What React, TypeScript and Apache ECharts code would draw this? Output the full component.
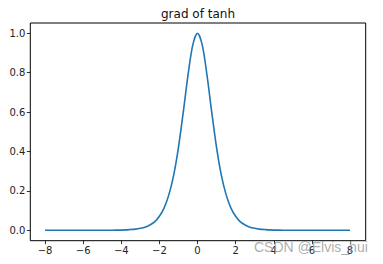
import React, { useEffect, useRef } from "react";
import * as echarts from "echarts";

const titleText = "grad of tanh";
const watermarkText = "CSDN @Elvis_hui";

// x positions of the sampled curve
const xValues = [
  -8, -7, -6, -5, -4.5, -4, -3.75, -3.5, -3.25, -3, -2.75, -2.5, -2.25, -2, -1.75, -1.5, -1.25, -1,
  -0.75, -0.5, -0.25, 0, 0.25, 0.5, 0.75, 1, 1.25, 1.5, 1.75, 2, 2.25, 2.5, 2.75, 3, 3.25, 3.5,
  3.75, 4, 4.5, 5, 6, 7, 8,
];
// gradient values
const yValues = [
  0, 0, 0, 0.0002, 0.0005, 0.001, 0.002, 0.004, 0.006, 0.01, 0.016, 0.027, 0.043, 0.071, 0.114,
  0.181, 0.28, 0.42, 0.597, 0.786, 0.94, 1.0, 0.94, 0.786, 0.597, 0.42, 0.28, 0.181, 0.114, 0.071,
  0.043, 0.027, 0.016, 0.01, 0.006, 0.004, 0.002, 0.001, 0.0005, 0.0002, 0, 0, 0,
];

const xTickMin = -8;
const xTickMax = 8;
const xTickStep = 2;
const yTickMin = 0;
const yTickMax = 1;
const yTickStep = 0.2;

export default function App() {
  const ref = useRef<HTMLDivElement>(null);
  useEffect(() => {
    if (!ref.current) return;
    const chart = echarts.init(ref.current, undefined, { renderer: "svg" });
    const font = "DejaVu Sans";
    const data = xValues.map((x, i) => [x, yValues[i]]);
    chart.setOption({
      animation: false,
      textStyle: { fontFamily: font },
      grid: [
        {
          left: 30.3,
          right: 17.3,
          top: 23,
          bottom: 23.3,
          show: true,
          borderColor: "#000",
          borderWidth: 1,
          backgroundColor: "transparent",
        },
        {
          left: 45,
          right: 33,
          top: 33.3,
          bottom: 33.7,
        },
      ],
      xAxis: [
        { type: "value", gridIndex: 0, min: -8.8, max: 8.8, show: false },
        {
          type: "value",
          gridIndex: 1,
          min: xTickMin,
          max: xTickMax,
          interval: xTickStep,
          offset: 10.4,
          axisLine: { show: false, onZero: false },
          axisTick: { show: true, length: 3.5, lineStyle: { color: "#000", width: 0.8 } },
          splitLine: { show: false },
          axisLabel: {
            color: "#222",
            fontSize: 10,
            fontFamily: font,
            margin: 5,
            formatter: (v: number) => String(v).replace("-", "\u2212"),
          },
        },
      ],
      yAxis: [
        { type: "value", gridIndex: 0, min: -0.05, max: 1.05, show: false },
        {
          type: "value",
          gridIndex: 1,
          min: yTickMin,
          max: yTickMax,
          interval: yTickStep,
          offset: 14.7,
          axisLine: { show: false, onZero: false },
          axisTick: { show: true, length: 3.5, lineStyle: { color: "#000", width: 0.8 } },
          splitLine: { show: false },
          axisLabel: {
            color: "#222",
            fontSize: 10,
            fontFamily: font,
            margin: 5,
            formatter: (v: number) => v.toFixed(1),
          },
        },
      ],
      series: [
        {
          type: "line",
          xAxisIndex: 1,
          yAxisIndex: 1,
          data,
          showSymbol: false,
          smooth: 0.3,
          lineStyle: { color: "#1f77b4", width: 1.6 },
          clip: false,
        },
      ],
      graphic: [
        {
          type: "text",
          x: 198,
          y: 14,
          style: {
            text: titleText,
            font: `12px ${font}`,
            fill: "#111",
            align: "center",
            verticalAlign: "middle",
          },
        },
        {
          type: "text",
          x: 254,
          y: 246.5,
          z: 100,
          style: {
            text: watermarkText,
            font: `14px "Liberation Sans", Arial, sans-serif`,
            fill: "rgba(160,160,160,0.85)",
            align: "left",
            verticalAlign: "middle",
          },
        },
      ],
    });
    return () => chart.dispose();
  }, []);
  return (
    <div
      ref={ref}
      style={{ position: "fixed", left: 0, top: 0, width: 383, height: 264, background: "#fff" }}
    />
  );
}
